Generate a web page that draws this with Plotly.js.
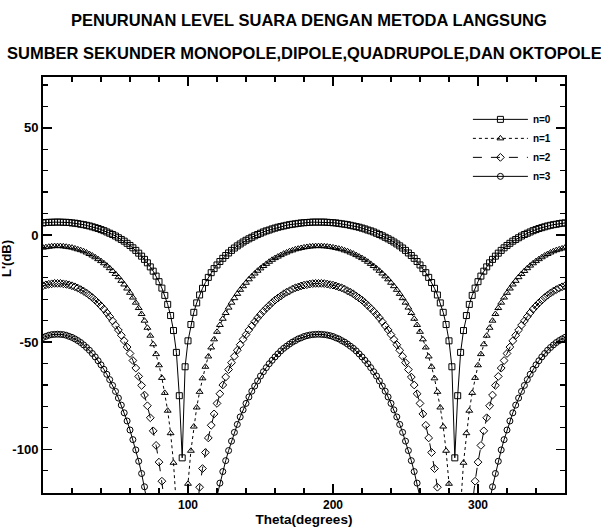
<!DOCTYPE html>
<html>
<head>
<meta charset="utf-8">
<script src="https://cdn.plot.ly/plotly-3.0.1.min.js"></script>
<style>html,body{margin:0;padding:0;background:#fff;}#chart{width:601px;height:528px;}</style>
</head>
<body>
<div id="chart"></div>
<script>
// Theta runs 0..360 deg in steps of 2 deg (x0 = 0, dx = 2)
const THETA_START = 0;
const THETA_STEP = 2;

const seriesNames = ["n=0", "n=1", "n=2", "n=3"];

const n0 = [5.6,5.8,5.9,5.9,6.0,6.0,6.0,5.9,5.9,5.8,
5.6,5.5,5.3,5.0,4.8,4.5,4.2,3.8,3.4,3.0,
2.5,2.0,1.4,0.8,0.2,-0.5,-1.3,-2.1,-2.9,-3.9,
-4.9,-6.0,-7.2,-8.5,-9.9,-11.4,-13.0,-14.9,-16.9,-19.2,
-21.8,-24.8,-28.2,-32.4,-37.6,-44.6,-54.8,-75.0,
-104,-61.5,-49.4,-41.8,-36.1,-31.7,-28.0,-24.9,-22.2,-19.8,
-17.6,-15.7,-14.0,-12.4,-10.9,-9.6,-8.4,-7.2,-6.1,-5.1,
-4.2,-3.3,-2.5,-1.8,-1.1,-0.4,0.2,0.8,1.4,1.9,
2.3,2.8,3.2,3.6,3.9,4.2,4.5,4.8,5.0,5.2,
5.4,5.6,5.7,5.8,5.9,6.0,6.0,
6.0,
6.0,6.0,5.9,5.8,5.7,5.6,5.4,5.2,5.0,4.8,
4.5,4.2,3.9,3.6,3.2,2.8,2.3,1.9,1.4,0.8,
0.2,-0.4,-1.1,-1.8,-2.5,-3.3,-4.2,-5.1,-6.1,-7.2,
-8.4,-9.6,-10.9,-12.4,-14.0,-15.7,-17.6,-19.8,-22.2,-24.9,
-28.0,-31.7,-36.1,-41.8,-49.4,-61.5,-104,
-75.0,-54.8,-44.6,-37.6,-32.4,-28.2,-24.8,-21.8,-19.2,-16.9,
-14.9,-13.0,-11.4,-9.9,-8.5,-7.2,-6.0,-4.9,-3.9,-2.9,
-2.1,-1.3,-0.5,0.2,0.8,1.4,2.0,2.5,3.0,3.4,
3.8,4.2,4.5,4.8,5.0,5.3,5.5,5.6];

const n1 = [-5.9,-5.7,-5.5,-5.3,-5.2,-5.2,-5.2,-5.3,-5.5,-5.7,
-5.9,-6.3,-6.7,-7.1,-7.6,-8.2,-8.9,-9.6,-10.4,-11.3,
-12.2,-13.2,-14.3,-15.5,-16.8,-18.2,-19.7,-21.4,-23.1,-25.0,
-27.0,-29.2,-31.6,-34.1,-36.9,-40.0,-43.3,-47.0,-51.0,-55.6,
-60.8,-66.7,-73.7,-82.0,-92.5,-106.3,-126.9,-167.3,
-198.7,-140.1,-116.1,-100.7,-89.4,-80.5,-73.2,-66.9,-61.5,-56.7,
-52.5,-48.7,-45.2,-42.0,-39.1,-36.4,-33.9,-31.6,-29.5,-27.5,
-25.6,-23.9,-22.3,-20.7,-19.3,-18.0,-16.7,-15.6,-14.5,-13.5,
-12.5,-11.6,-10.8,-10.1,-9.4,-8.7,-8.2,-7.6,-7.2,-6.7,
-6.4,-6.1,-5.8,-5.6,-5.4,-5.3,-5.2,
-5.2,
-5.2,-5.3,-5.4,-5.6,-5.8,-6.1,-6.4,-6.7,-7.2,-7.6,
-8.2,-8.7,-9.4,-10.1,-10.8,-11.6,-12.5,-13.5,-14.5,-15.6,
-16.7,-18.0,-19.3,-20.7,-22.3,-23.9,-25.6,-27.5,-29.5,-31.6,
-33.9,-36.4,-39.1,-42.0,-45.2,-48.7,-52.5,-56.7,-61.5,-66.9,
-73.2,-80.5,-89.4,-100.7,-116.1,-140.1,-198.7,
-167.3,-126.9,-106.3,-92.5,-82.0,-73.7,-66.7,-60.8,-55.6,-51.0,
-47.0,-43.3,-40.0,-36.9,-34.1,-31.6,-29.2,-27.0,-25.0,-23.1,
-21.4,-19.7,-18.2,-16.8,-15.5,-14.3,-13.2,-12.2,-11.3,-10.4,
-9.6,-8.9,-8.2,-7.6,-7.1,-6.7,-6.3,-5.9];

const n2 = [-23.7,-23.3,-23.0,-22.8,-22.6,-22.6,-22.6,-22.8,-23.0,-23.3,
-23.7,-24.2,-24.8,-25.5,-26.2,-27.1,-28.1,-29.2,-30.4,-31.7,
-33.1,-34.6,-36.3,-38.1,-40.1,-42.1,-44.4,-46.8,-49.4,-52.3,
-55.3,-58.6,-62.1,-66.0,-70.2,-74.7,-79.7,-85.3,-91.4,-98.2,
-106.0,-114.9,-125.3,-137.9,-153.5,-174.3,-205.1,-265.7,
-293.5,-211.5,-177.8,-156.3,-140.5,-128.1,-117.7,-109.0,-101.5,-94.7,
-88.8,-83.5,-78.6,-74.1,-70.0,-66.3,-62.8,-59.6,-56.6,-53.8,
-51.2,-48.7,-46.5,-44.3,-42.4,-40.5,-38.7,-37.1,-35.6,-34.2,
-32.9,-31.6,-30.4,-29.4,-28.5,-27.5,-26.7,-26.1,-25.3,-24.7,
-24.3,-23.8,-23.4,-23.2,-22.9,-22.7,-22.6,
-22.6,
-22.6,-22.7,-22.9,-23.2,-23.4,-23.8,-24.3,-24.7,-25.3,-26.1,
-26.7,-27.5,-28.5,-29.4,-30.4,-31.6,-32.9,-34.2,-35.6,-37.1,
-38.7,-40.5,-42.4,-44.3,-46.5,-48.7,-51.2,-53.8,-56.6,-59.6,
-62.8,-66.3,-70.0,-74.1,-78.6,-83.5,-88.8,-94.7,-101.5,-109.0,
-117.7,-128.1,-140.5,-156.3,-177.8,-211.5,-293.5,
-265.7,-205.1,-174.3,-153.5,-137.9,-125.3,-114.9,-106.0,-98.2,-91.4,
-85.3,-79.7,-74.7,-70.2,-66.0,-62.1,-58.6,-55.3,-52.3,-49.4,
-46.8,-44.4,-42.1,-40.1,-38.1,-36.3,-34.6,-33.1,-31.7,-30.4,
-29.2,-28.1,-27.1,-26.2,-25.5,-24.8,-24.2,-23.7];

const n3 = [-47.8,-47.3,-46.8,-46.5,-46.4,-46.3,-46.4,-46.5,-46.8,-47.3,
-47.8,-48.5,-49.3,-50.2,-51.3,-52.5,-53.8,-55.3,-56.9,-58.7,
-60.6,-62.7,-65.0,-67.5,-70.2,-73.0,-76.1,-79.4,-83.0,-86.8,
-91.0,-95.5,-100.3,-105.6,-111.3,-117.5,-124.4,-131.9,-140.3,-149.6,
-160.3,-172.4,-186.7,-203.8,-225.2,-253.6,-295.7,-378.6,
-412.1,-301.2,-255.9,-226.8,-205.5,-188.7,-174.7,-162.9,-152.7,-143.8,
-135.6,-128.5,-121.8,-115.8,-110.4,-105.3,-100.6,-96.2,-92.1,-88.4,
-84.9,-81.6,-78.6,-75.6,-72.9,-70.5,-68.1,-65.8,-63.8,-61.9,
-60.1,-58.5,-56.9,-55.5,-54.1,-52.9,-51.9,-50.9,-50.0,-49.3,
-48.5,-48.0,-47.4,-47.0,-46.7,-46.5,-46.4,
-46.3,
-46.4,-46.5,-46.7,-47.0,-47.4,-48.0,-48.5,-49.3,-50.0,-50.9,
-51.9,-52.9,-54.1,-55.5,-56.9,-58.5,-60.1,-61.9,-63.8,-65.8,
-68.1,-70.5,-72.9,-75.6,-78.6,-81.6,-84.9,-88.4,-92.1,-96.2,
-100.6,-105.3,-110.4,-115.8,-121.8,-128.5,-135.6,-143.8,-152.7,-162.9,
-174.7,-188.7,-205.5,-226.8,-255.9,-301.2,-412.1,
-378.6,-295.7,-253.6,-225.2,-203.8,-186.7,-172.4,-160.3,-149.6,-140.3,
-131.9,-124.4,-117.5,-111.3,-105.6,-100.3,-95.5,-91.0,-86.8,-83.0,
-79.4,-76.1,-73.0,-70.2,-67.5,-65.0,-62.7,-60.6,-58.7,-56.9,
-55.3,-53.8,-52.5,-51.3,-50.2,-49.3,-48.5,-47.8];

const xTickVals = [100, 200, 300];
const yTickVals = [-100, -50, 0, 50];

const seriesValues = [n0, n1, n2, n3];
const symbols = ["square-open", "triangle-up-open", "diamond-open", "circle-open"];
const dashes = ["solid", "dot", "dash", "solid"];

const FONT = "Liberation Sans, Arial, sans-serif";

const traces = seriesValues.map((vals, i) => ({
  type: "scatter",
  mode: "lines+markers",
  name: seriesNames[i],
  x0: THETA_START,
  dx: THETA_STEP,
  y: vals,
  line: {color: "#000", width: 1, dash: dashes[i]},
  marker: {symbol: symbols[i], size: 6, color: "#000", line: {width: 1, color: "#000"}}
}));

const axisCommon = {
  showgrid: false,
  zeroline: false,
  showline: true,
  linecolor: "#000",
  linewidth: 2,
  mirror: "allticks",
  ticks: "inside",
  ticklen: 9,
  tickwidth: 1.5,
  tickcolor: "#000",
  tickfont: {family: FONT, size: 13, color: "#000", weight: "bold"}
};

const layout = {
  width: 601,
  height: 528,
  margin: {l: 43, r: 36, t: 77, b: 35},
  paper_bgcolor: "#fff",
  plot_bgcolor: "#fff",
  showlegend: true,
  title: {
    text: "PENURUNAN LEVEL SUARA DENGAN METODA LANGSUNG",
    font: {family: FONT, size: 16.5, color: "#000", weight: "bold"},
    x: 0.514, xref: "container", xanchor: "center",
    y: 0.962, yref: "container", yanchor: "middle"
  },
  annotations: [{
    text: "SUMBER SEKUNDER MONOPOLE,DIPOLE,QUADRUPOLE,DAN OKTOPOLE",
    xref: "paper", yref: "paper", x: 0.5, y: 1.0577,
    xanchor: "center", yanchor: "middle", showarrow: false,
    font: {family: FONT, size: 16.5, color: "#000", weight: "bold"}
  }, {
    text: "L'(dB)",
    xref: "paper", yref: "paper", x: -0.069, y: 0.565,
    xanchor: "center", yanchor: "middle", showarrow: false, textangle: -90,
    font: {family: FONT, size: 13, color: "#000", weight: "bold"}
  }],
  xaxis: Object.assign({}, axisCommon, {
    range: [0, 360],
    tickmode: "array",
    tickvals: xTickVals,
    ticktext: xTickVals.map(String),
    tickfont: {family: FONT, size: 12, color: "#000", weight: "bold"},
    minor: {dtick: 20, tick0: 0, ticks: "inside", ticklen: 5, tickwidth: 1.2, tickcolor: "#000"},
    title: {text: "Theta(degrees)", font: {family: FONT, size: 13.5, color: "#000", weight: "bold"}, standoff: 2}
  }),
  yaxis: Object.assign({}, axisCommon, {
    range: [-120.4, 73.7],
    tickmode: "array",
    tickvals: yTickVals,
    ticktext: yTickVals.map(String),
    minor: {dtick: 10, tick0: 0, ticks: "inside", ticklen: 5, tickwidth: 1.2, tickcolor: "#000"}
  }),
  legend: {
    x: 0.814, y: 0.933, xanchor: "left", yanchor: "top",
    bgcolor: "rgba(0,0,0,0)", borderwidth: 0,
    font: {family: FONT, size: 10, color: "#000", weight: "bold"},
    itemwidth: 55
  }
};

Plotly.newPlot("chart", traces, layout, {displayModeBar: false, staticPlot: true});
</script>
</body>
</html>
